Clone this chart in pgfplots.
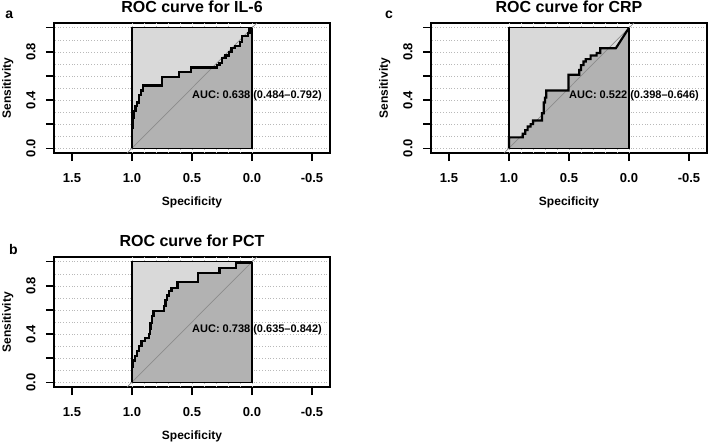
\documentclass[border=0pt]{standalone}
\usepackage{fontspec}
\setmainfont{Liberation Sans}
\usepackage{pgfplots}
\usepackage{pgfplotstable}
\pgfplotsset{compat=1.18}

\definecolor{boxgray}{RGB}{217,217,217}
\definecolor{aucgray}{RGB}{178,178,178}
\definecolor{diaggray}{RGB}{140,140,140}
\definecolor{gridgray}{RGB}{185,185,185}

% ROC curves: specificity, sensitivity
\pgfplotstableread{
x y
1 0
1 0.17
0.99 0.17
0.99 0.25
0.98 0.25
0.98 0.31
0.97 0.31
0.97 0.35
0.955 0.35
0.955 0.38
0.94 0.38
0.94 0.44
0.925 0.44
0.925 0.48
0.91 0.48
0.91 0.52
0.75 0.52
0.75 0.59
0.61 0.59
0.61 0.63
0.51 0.63
0.51 0.67
0.29 0.67
0.29 0.69
0.27 0.69
0.27 0.71
0.25 0.71
0.25 0.75
0.22 0.75
0.22 0.77
0.19 0.77
0.19 0.80
0.17 0.80
0.17 0.83
0.14 0.83
0.14 0.85
0.10 0.85
0.10 0.88
0.08 0.88
0.08 0.93
0.035 0.93
0.035 0.96
0.02 0.96
0.02 1
0 1
}\rocIL

\pgfplotstableread{
x y
1 0
1 0.09
0.885 0.09
0.885 0.12
0.865 0.12
0.865 0.15
0.845 0.15
0.845 0.18
0.82 0.18
0.82 0.20
0.80 0.20
0.80 0.23
0.725 0.23
0.725 0.29
0.71 0.29
0.71 0.38
0.70 0.38
0.70 0.42
0.69 0.42
0.69 0.48
0.505 0.48
0.505 0.61
0.415 0.61
0.415 0.65
0.40 0.65
0.40 0.69
0.38 0.69
0.38 0.72
0.36 0.72
0.36 0.74
0.32 0.74
0.32 0.77
0.27 0.77
0.27 0.79
0.24 0.79
0.24 0.83
0.11 0.83
0 1
}\rocCRP

\pgfplotstableread{
x y
1 0
1 0.13
0.99 0.13
0.99 0.18
0.975 0.18
0.975 0.22
0.96 0.22
0.96 0.26
0.94 0.26
0.94 0.30
0.92 0.30
0.92 0.34
0.89 0.34
0.89 0.37
0.86 0.37
0.86 0.40
0.85 0.40
0.85 0.44
0.845 0.44
0.845 0.49
0.835 0.49
0.835 0.55
0.82 0.55
0.82 0.59
0.73 0.59
0.73 0.63
0.72 0.63
0.72 0.68
0.71 0.68
0.71 0.72
0.69 0.72
0.69 0.76
0.67 0.76
0.67 0.78
0.62 0.78
0.62 0.83
0.45 0.83
0.45 0.91
0.27 0.91
0.27 0.95
0.13 0.95
0.13 0.99
0.02 0.99
0.02 1
0 1
}\rocPCT

\pgfplotsset{
  rocaxis/.style={
    scale only axis, width=276pt, height=130pt, anchor=south west,
    xmin=-0.65, xmax=1.65, x dir=reverse, ymin=-0.04, ymax=1.04,
    xtick={-0.5,0,0.5,1,1.5}, xticklabels={-0.5,0.0,0.5,1.0,1.5},
    ytick={0,0.2,0.4,0.6,0.8,1}, yticklabels={0.0,,0.4,,0.8,},
    minor ytick={0.1,0.3,0.5,0.7,0.9},
    ymajorgrids, yminorgrids,
    extra x ticks={0,0.1,0.2,0.3,0.4,0.5,0.6,0.7,0.8,0.9,1},
    extra x tick labels={},
    extra x tick style={grid=major, major tick length=0pt},
    major grid style={gridgray, line width=0.7pt, dash pattern=on 0.8pt off 2pt},
    minor grid style={gridgray, line width=0.7pt, dash pattern=on 0.8pt off 2pt},
    minor tick length=0pt,
    tick align=outside, major tick length=8pt,
    xtick pos=bottom, ytick pos=left,
    axis line style={line width=1.5pt},
    every tick/.style={black, line width=1.3pt},
    tick label style={font=\bfseries\fontsize{13}{13}\selectfont},
    yticklabel style={rotate=90, anchor=south},
    xticklabel shift=9pt, yticklabel shift=7pt,
    xlabel=Specificity, ylabel=Sensitivity,
    label style={font=\bfseries\fontsize{12}{12}\selectfont},
    xlabel style={at={(0.5,-0.4)}, anchor=base},
    ylabel style={at={(-0.156,0.5)}, anchor=base},
    title style={at={(0.5,1.032)}, anchor=base, inner sep=0pt,
      font=\bfseries\fontsize{16}{16}\selectfont},
    clip mode=individual,
  },
}
\tikzset{
  auclabel/.style={anchor=north west, inner sep=0pt, yshift=-2pt,
    font=\bfseries\fontsize{11}{11}\selectfont},
  panelletter/.style={anchor=base, inner sep=0pt,
    font=\bfseries\fontsize{14}{14}\selectfont},
}

\begin{document}
\begin{tikzpicture}
\useasboundingbox (0pt,0pt) rectangle (708pt,-445pt);

% a: IL-6
\begin{axis}[rocaxis, at={(54pt,-153pt)}, title={ROC curve for IL-6}]
  \addplot[fill=boxgray, draw=none] coordinates {(1,0) (1,1) (0,1) (0,0)} -- cycle;
  \addplot[fill=aucgray, draw=none] table {\rocIL} \closedcycle;
  \addplot[draw=black, line width=1.3pt] coordinates {(1,0) (1,1) (0,1) (0,0)} -- cycle;
  \addplot[diaggray, line width=0.7pt] coordinates {(1.04,-0.04) (-0.04,1.04)};
  \addplot[black, line width=2.2pt] table {\rocIL};
  \node[auclabel] at (axis cs:0.5,0.5) {AUC: 0.638 (0.484–0.792)};
  \node[panelletter] at (axis description cs:-0.162,1.032) {a};
\end{axis}

% c: CRP
\begin{axis}[rocaxis, at={(431pt,-153pt)}, title={ROC curve for CRP}]
  \addplot[fill=boxgray, draw=none] coordinates {(1,0) (1,1) (0,1) (0,0)} -- cycle;
  \addplot[fill=aucgray, draw=none] table {\rocCRP} \closedcycle;
  \addplot[draw=black, line width=1.3pt] coordinates {(1,0) (1,1) (0,1) (0,0)} -- cycle;
  \addplot[diaggray, line width=0.7pt] coordinates {(1.04,-0.04) (-0.04,1.04)};
  \addplot[black, line width=2.2pt] table {\rocCRP};
  \node[auclabel] at (axis cs:0.5,0.5) {AUC: 0.522 (0.398–0.646)};
  \node[panelletter] at (axis description cs:-0.152,1.032) {c};
\end{axis}

% b: PCT
\begin{axis}[rocaxis, at={(54pt,-387pt)}, title={ROC curve for PCT}]
  \addplot[fill=boxgray, draw=none] coordinates {(1,0) (1,1) (0,1) (0,0)} -- cycle;
  \addplot[fill=aucgray, draw=none] table {\rocPCT} \closedcycle;
  \addplot[draw=black, line width=1.3pt] coordinates {(1,0) (1,1) (0,1) (0,0)} -- cycle;
  \addplot[diaggray, line width=0.7pt] coordinates {(1.04,-0.04) (-0.04,1.04)};
  \addplot[black, line width=2.2pt] table {\rocPCT};
  \node[auclabel] at (axis cs:0.5,0.5) {AUC: 0.738 (0.635–0.842)};
  \node[panelletter] at (axis description cs:-0.147,1.018) {b};
\end{axis}
\end{tikzpicture}
\end{document}
